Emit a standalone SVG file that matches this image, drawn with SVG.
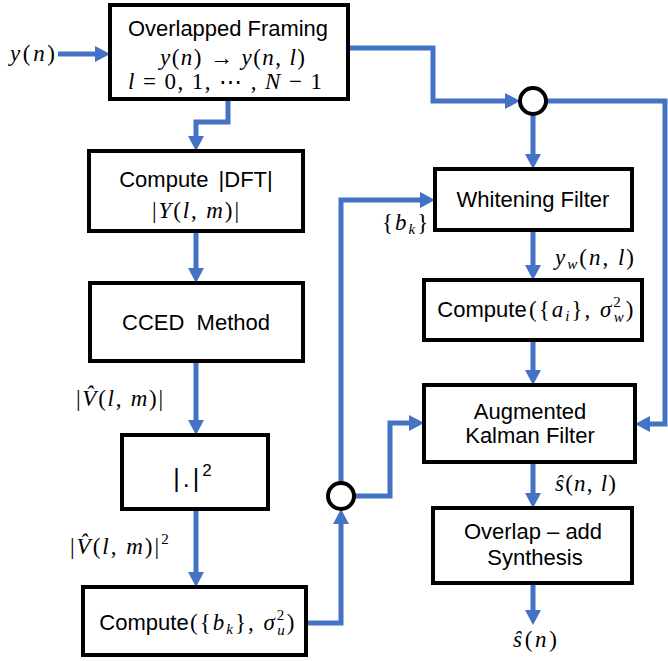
<svg xmlns="http://www.w3.org/2000/svg" width="668" height="661" viewBox="0 0 668 661">
<defs>
<marker id="ah" viewBox="0 0 15 16" markerWidth="15" markerHeight="16" refX="10" refY="8" orient="auto" markerUnits="userSpaceOnUse">
<path d="M0,0 L15,8 L0,16 z" fill="#4472C4"/>
</marker>
</defs>
<style>
.box{fill:#fff;stroke:#000;stroke-width:4}
.jn{fill:#fff;stroke:#000;stroke-width:4}
.c{fill:none;stroke:#4472C4;stroke-width:5}
.a{marker-end:url(#ah)}
.t{font-family:"Liberation Sans",Arial,sans-serif;font-size:22px;fill:#000;text-anchor:middle}
.m{font-family:"Liberation Serif","Times New Roman",serif;font-size:23px;fill:#000;font-style:italic}
.r{font-style:normal}
.sub{font-size:15px}
.ls{letter-spacing:2px}
</style>
<rect width="668" height="661" fill="#fff"/>

<g id="connectors">
<path class="c a" d="M58,54 H105"/>
<path class="c a" d="M228,99 V122 H196 V146"/>
<path class="c a" d="M196,231 V278"/>
<path class="c a" d="M196,361 V430"/>
<path class="c a" d="M196,509 V582"/>
<path class="c a" d="M348,48 H433 V101 H515"/>
<path class="c a" d="M533,115 V164"/>
<path class="c a" d="M546,101 H665 V424 H640"/>
<path class="c a" d="M306,623 H341 V514"/>
<path class="c a" d="M341,483 V200 H430"/>
<path class="c a" d="M354,496 H390 V423 H419"/>
<path class="c a" d="M533,230 V275"/>
<path class="c a" d="M533,340 V380"/>
<path class="c a" d="M533,462 V503"/>
<path class="c a" d="M533,583 V620"/>
</g>

<g id="input-label">
<text class="m" x="10" y="61" textLength="45" lengthAdjust="spacing">y<tspan class="r">(</tspan>n<tspan class="r">)</tspan></text>
</g>

<g id="framing">
<rect class="box" x="110" y="5" width="238" height="94"/>
<text class="t" x="128" y="36" style="text-anchor:start" textLength="200" lengthAdjust="spacingAndGlyphs">Overlapped Framing</text>
<text class="m" x="160" y="65" textLength="145" lengthAdjust="spacing">y<tspan class="r">(</tspan>n<tspan class="r">) → </tspan>y<tspan class="r">(</tspan>n<tspan class="r">, </tspan>l<tspan class="r">)</tspan></text>
<text class="m" x="128" y="89" textLength="194" lengthAdjust="spacing">l<tspan class="r"> = 0, 1, ⋯ , </tspan>N<tspan class="r"> − 1</tspan></text>
</g>

<g id="junction-top">
<circle class="jn" cx="533" cy="101" r="13"/>
</g>

<g id="dft">
<rect class="box" x="89" y="151" width="214" height="80"/>
<text class="t" x="196" y="187" style="word-spacing:4px">Compute |DFT|</text>
<text class="m" x="152" y="218" textLength="87" lengthAdjust="spacing"><tspan class="r">|</tspan>Y<tspan class="r">(</tspan>l<tspan class="r">, </tspan>m<tspan class="r">)|</tspan></text>
</g>

<g id="cced">
<rect class="box" x="90" y="283" width="213" height="78"/>
<text class="t" x="196" y="330" style="white-space:pre">CCED  Method</text>
</g>

<g id="label-v">
<text class="m" x="76" y="406" textLength="87" lengthAdjust="spacing"><tspan class="r">|</tspan>V̂<tspan class="r">(</tspan>l<tspan class="r">, </tspan>m<tspan class="r">)|</tspan></text>
</g>

<g id="square">
<rect class="box" x="122" y="435" width="146" height="74"/>
<text class="t" x="194" y="487" style="font-size:25px;letter-spacing:3px">|.|<tspan style="font-size:17px" dy="-11">2</tspan></text>
</g>

<g id="label-v2">
<text class="m ls" x="70" y="554"><tspan class="r">|</tspan>V̂<tspan class="r">(</tspan>l<tspan class="r">, </tspan>m<tspan class="r">)|</tspan><tspan class="r sub" dy="-10">2</tspan></text>
</g>

<g id="compute-b">
<rect class="box" x="83" y="587" width="223" height="68"/>
<text class="t" x="144" y="630">Compute</text>
<text class="m ls" x="190" y="630"><tspan class="r">({</tspan>b<tspan class="sub" dy="4">k</tspan><tspan class="r" dy="-4">}, </tspan>σ<tspan class="r sub" dy="-10">2</tspan><tspan class="sub" dx="-9" dy="15">u</tspan><tspan class="r" dy="-5">)</tspan></text>
</g>

<g id="junction-bottom">
<circle class="jn" cx="341" cy="496" r="13"/>
</g>

<g id="label-bk">
<text class="m ls" x="382" y="230"><tspan class="r">{</tspan>b<tspan class="sub" dy="4">k</tspan><tspan class="r" dy="-4">}</tspan></text>
</g>

<g id="whitening">
<rect class="box" x="435" y="169" width="197" height="61"/>
<text class="t" x="533" y="207">Whitening Filter</text>
</g>

<g id="label-yw">
<text class="m ls" x="555" y="265">y<tspan class="sub" dy="4">w</tspan><tspan class="r" dy="-4">(</tspan>n<tspan class="r">, </tspan>l<tspan class="r">)</tspan></text>
</g>

<g id="compute-a">
<rect class="box" x="424" y="280" width="218" height="60"/>
<text class="t" x="482" y="317">Compute</text>
<text class="m ls" x="529" y="317"><tspan class="r">({</tspan>a<tspan class="sub" dy="4">i</tspan><tspan class="r" dy="-4">}, </tspan>σ<tspan class="r sub" dy="-10">2</tspan><tspan class="sub" dx="-9" dy="15">w</tspan><tspan class="r" dy="-5">)</tspan></text>
</g>

<g id="kalman">
<rect class="box" x="424" y="385" width="211" height="77"/>
<text class="t" x="530" y="419">Augmented</text>
<text class="t" x="530" y="443">Kalman Filter</text>
</g>

<g id="label-snl">
<text class="m" x="555" y="491" textLength="61" lengthAdjust="spacing">ŝ<tspan class="r">(</tspan>n<tspan class="r">, </tspan>l<tspan class="r">)</tspan></text>
</g>

<g id="overlap-add">
<rect class="box" x="433" y="508" width="199" height="75"/>
<text class="t" x="533" y="539">Overlap – add</text>
<text class="t" x="535" y="565">Synthesis</text>
</g>

<g id="output-label">
<text class="m" x="513" y="647" textLength="44" lengthAdjust="spacing">ŝ<tspan class="r">(</tspan>n<tspan class="r">)</tspan></text>
</g>
</svg>
